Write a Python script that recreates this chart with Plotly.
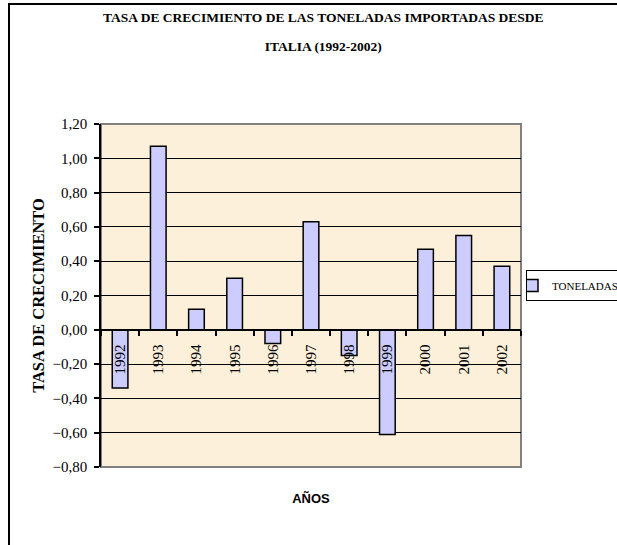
import plotly.graph_objects as go

# Growth rate of tonnes imported from Italy, 1992-2002
years = ["1992", "1993", "1994", "1995", "1996", "1997",
         "1998", "1999", "2000", "2001", "2002"]
growth = [-0.34, 1.07, 0.12, 0.30, -0.08, 0.63, -0.15, -0.61, 0.47, 0.55, 0.37]
series_name = "TONELADAS"
y_ticks = [-0.8, -0.6, -0.4, -0.2, 0.0, 0.2, 0.4, 0.6, 0.8, 1.0, 1.2]

W, H = 617, 545
L, R, T, B = 101, 96, 124, 78
pw, ph = W - L - R, H - T - B
y_min, y_max = -0.8, 1.2

def px_x(px):
    return (px - L) / pw

def px_y(py):
    return (H - B - py) / ph

serif = "Liberation Serif, Times New Roman, serif"

fig = go.Figure()
fig.add_trace(go.Bar(
    x=years, y=growth, name=series_name,
    marker=dict(color="#CCCCFF", line=dict(color="#000000", width=1.5)),
    showlegend=True,
))

fig.update_layout(
    width=W, height=H,
    margin=dict(l=L, r=R, t=T, b=B, autoexpand=False),
    paper_bgcolor="#FFFFFF",
    plot_bgcolor="#FCF0DA",
    separators=",.",
    bargap=0.59,
    font=dict(family=serif, color="#000000", size=14),
    title=dict(
        text="TASA DE CRECIMIENTO DE LAS TONELADAS IMPORTADAS DESDE",
        x=0.524, xanchor="center", y=1 - 17 / H, yanchor="middle",
        font=dict(family=serif, size=13.5, weight="bold", color="#000000"),
        subtitle=dict(text="<b>ITALIA (1992-2002)</b>",
                      font=dict(family=serif, size=13.5, color="#000000")),
    ),
    xaxis=dict(
        type="category",
        anchor="free", position=(0 - y_min) / (y_max - y_min),
        showline=True, linecolor="#000000", linewidth=1.5,
        ticks="outside", tickson="boundaries", ticklen=5,
        tickcolor="#000000", tickwidth=1.5,
        tickangle=-90, ticklabelstandoff=8,
        tickfont=dict(family=serif, size=15),
        showgrid=False,
        title=dict(text="AÑOS", standoff=119,
                   font=dict(family="Liberation Sans, Arial, sans-serif",
                             size=13, weight="bold")),
        automargin=False,
    ),
    yaxis=dict(
        range=[y_min, y_max],
        tickvals=y_ticks, tickformat=".2f",
        showline=True, linecolor="#000000", linewidth=1.5,
        ticks="outside", ticklen=5, tickcolor="#000000", tickwidth=1.5,
        ticklabelstandoff=4,
        tickfont=dict(family=serif, size=15),
        showgrid=True, gridcolor="#000000", gridwidth=1,
        zeroline=False,
        title=dict(text="TASA DE CRECIMIENTO", standoff=4,
                   font=dict(family=serif, size=16.5, weight="bold")),
        automargin=False,
    ),
    legend=dict(
        x=px_x(526), xanchor="left", y=px_y(285.5), yanchor="middle",
        bordercolor="#000000", borderwidth=1, bgcolor="#FFFFFF",
        font=dict(family=serif, size=11),
        itemwidth=30, indentation=-15,
    ),
    shapes=[
        # plot-area frame
        dict(type="rect", xref="paper", yref="paper", x0=0, y0=0, x1=1, y1=1,
             line=dict(color="#808080", width=2), layer="below"),
        # chart-area frame
        dict(type="rect", xref="paper", yref="paper",
             x0=px_x(9), y0=px_y(560), x1=px_x(640), y1=px_y(4),
             line=dict(color="#000000", width=2)),
    ],
)

fig.write_html("out.html")
